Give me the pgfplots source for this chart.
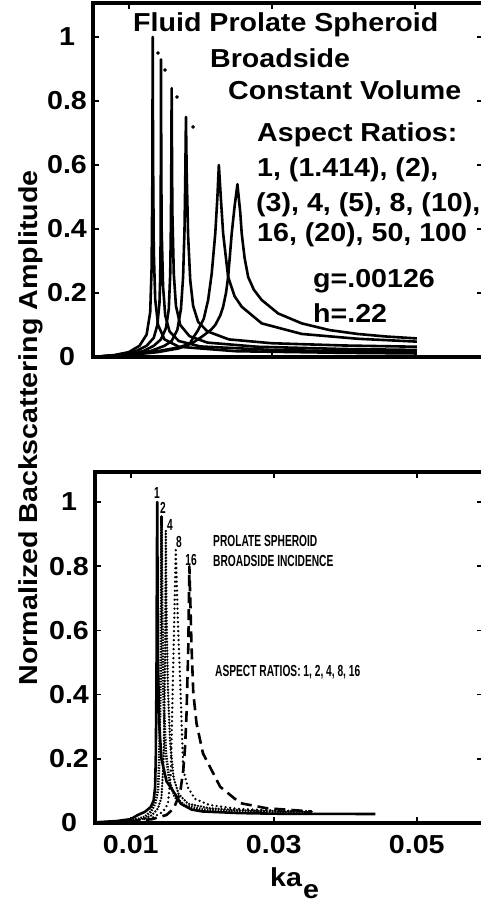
\documentclass[border=0pt]{standalone}
\usepackage{fontspec}
\setmainfont{Liberation Sans}[FakeStretch=1.1]
\usepackage{graphicx}
\usepackage{pgfplots}
\pgfplotsset{compat=1.18}

\newcommand\bigf{\fontsize{26}{30}\selectfont\bfseries}
\newcommand\smallf{\fontsize{16}{18}\selectfont\bfseries}
\newcommand\cond[1]{\scalebox{0.58}[1]{\smallf #1}}

\pgfplotsset{
  curve/.style={black, line width=2.6pt, line join=round, mark=none},
  panel/.style={
    scale only axis,
    xmin=0.005, ymin=0,
    separate axis lines,
    every outer x axis line/.append style={line width=3.2pt, line cap=rect},
    every outer y axis line/.append style={line width=3.2pt, line cap=rect},
    tick style={line width=1.6pt, black},
    major tick length=6pt,
    tick align=inside,
    scaled x ticks=false,
    xtick={0.01,0.03,0.05},
    ytick={0,0.2,0.4,0.6,0.8,1},
    yticklabels={0,0.2,0.4,0.6,0.8,1},
    yticklabel style={anchor=center, xshift=-26pt, font=\bigf},
    xticklabel style={anchor=center, yshift=-22pt, font=\bigf},
  },
}

\begin{document}
\begin{tikzpicture}
\useasboundingbox (0,0) rectangle (481pt,905pt);
\clip (0,0) rectangle (481pt,905pt);

% upper panel: constant volume, all aspect ratios
\begin{axis}[panel, at={(93pt,548pt)}, anchor=south west,
  width=390pt, height=354pt, xmax=0.059545, ymax=1.10625,
  xticklabels={}]
\addplot[curve] coordinates {(0.005,0) (0.008,0.006) (0.010,0.015) (0.0115,0.035) (0.0125,0.07) (0.0130,0.14) (0.0132,0.28) (0.0133,0.55) (0.01335,1.0) (0.0134,0.62) (0.0135,0.33) (0.0137,0.18) (0.0141,0.10) (0.0150,0.055) (0.0170,0.032) (0.0250,0.018) (0.0400,0.013) (0.0503,0.011)};
\addplot[curve] coordinates {(0.005,0) (0.008,0.005) (0.011,0.018) (0.0125,0.035) (0.0135,0.06) (0.0140,0.10) (0.0143,0.17) (0.0144,0.25) (0.01445,0.35) (0.01449,0.62) (0.01451,0.93) (0.01455,0.60) (0.0146,0.40) (0.0148,0.22) (0.0151,0.13) (0.0157,0.08) (0.0170,0.05) (0.0200,0.033) (0.0300,0.022) (0.0400,0.018) (0.0503,0.016)};
\addplot[curve] coordinates {(0.005,0) (0.009,0.006) (0.012,0.018) (0.0135,0.035) (0.0145,0.055) (0.0152,0.09) (0.0156,0.15) (0.0158,0.26) (0.0159,0.42) (0.01595,0.60) (0.0160,0.84) (0.01605,0.62) (0.0161,0.45) (0.0163,0.26) (0.0166,0.16) (0.0172,0.10) (0.0185,0.065) (0.0210,0.045) (0.0280,0.032) (0.0400,0.025) (0.0503,0.022)};
\addplot[curve] coordinates {(0.005,0) (0.010,0.007) (0.013,0.018) (0.015,0.035) (0.0160,0.05) (0.0168,0.085) (0.0173,0.15) (0.0176,0.25) (0.0178,0.40) (0.0179,0.55) (0.0180,0.75) (0.0181,0.58) (0.0183,0.38) (0.0186,0.24) (0.0190,0.16) (0.0197,0.11) (0.0210,0.08) (0.0240,0.055) (0.0300,0.043) (0.0400,0.036) (0.0503,0.032)};
\addplot[curve] coordinates {(0.005,0) (0.010,0.006) (0.014,0.015) (0.017,0.027) (0.0185,0.04) (0.0190,0.06) (0.0197,0.084) (0.0205,0.12) (0.0211,0.178) (0.0216,0.26) (0.0221,0.386) (0.0224,0.50) (0.0226,0.60) (0.0229,0.49) (0.0232,0.386) (0.0239,0.25) (0.0248,0.19) (0.0258,0.157) (0.0286,0.105) (0.0342,0.072) (0.0420,0.057) (0.0503,0.048)};
\addplot[curve] coordinates {(0.005,0) (0.010,0.008) (0.014,0.018) (0.017,0.030) (0.019,0.045) (0.0202,0.063) (0.0215,0.085) (0.0221,0.10) (0.0228,0.13) (0.0232,0.157) (0.0236,0.20) (0.0239,0.25) (0.0244,0.386) (0.0248,0.47) (0.0252,0.54) (0.0256,0.45) (0.0258,0.386) (0.0262,0.31) (0.0267,0.25) (0.0275,0.21) (0.0286,0.178) (0.0309,0.136) (0.0342,0.105) (0.0381,0.084) (0.0420,0.072) (0.0460,0.064) (0.0503,0.058)};
% peaks of the bracketed ratios
\addplot[black, only marks, mark=*, mark size=1.6pt] coordinates {(0.01409,0.95) (0.01507,0.897) (0.01675,0.8125) (0.01899,0.719)};
\end{axis}

% lower panel
\begin{axis}[panel, at={(95pt,82pt)}, anchor=south west,
  width=388pt, height=351pt, xmax=0.059266, ymax=1.0935,
  xticklabels={0.01,0.03,0.05}]
\addplot[curve] coordinates {(0.005,0.002) (0.008,0.006) (0.010,0.012) (0.011,0.025) (0.012,0.035) (0.0128,0.05) (0.0132,0.07) (0.0134,0.11) (0.0135,0.2) (0.0136,0.45) (0.01365,0.75) (0.0137,1.0) (0.01375,0.75) (0.0138,0.5) (0.0140,0.3) (0.0143,0.2) (0.0150,0.13) (0.0162,0.09) (0.017,0.06) (0.0185,0.042) (0.020,0.036) (0.025,0.031) (0.030,0.029) (0.0442,0.028)};
\addplot[curve, dash pattern=on 1.5pt off 1.2pt] coordinates {(0.005,0.001) (0.009,0.005) (0.011,0.012) (0.012,0.02) (0.0128,0.035) (0.0134,0.06) (0.0138,0.10) (0.0140,0.2) (0.0142,0.5) (0.0143,0.955) (0.0144,0.65) (0.0146,0.38) (0.0149,0.22) (0.0154,0.13) (0.0162,0.08) (0.0175,0.055) (0.020,0.042) (0.025,0.036) (0.0353,0.033)};
\addplot[curve, line cap=round, dash pattern=on 0pt off 3pt] coordinates {(0.005,0.001) (0.010,0.006) (0.012,0.014) (0.013,0.025) (0.0138,0.045) (0.0143,0.08) (0.0146,0.2) (0.0148,0.5) (0.0149,0.91) (0.0150,0.65) (0.0152,0.42) (0.0155,0.25) (0.0160,0.14) (0.0167,0.09) (0.018,0.06) (0.021,0.046) (0.026,0.039) (0.0353,0.035)};
\addplot[curve, line cap=round, dash pattern=on 0pt off 4.5pt] coordinates {(0.005,0.001) (0.010,0.006) (0.013,0.016) (0.0145,0.035) (0.0152,0.06) (0.0156,0.15) (0.0158,0.35) (0.0161,0.65) (0.0163,0.85) (0.0166,0.62) (0.0169,0.45) (0.0171,0.32) (0.01735,0.165) (0.0180,0.11) (0.019,0.075) (0.021,0.056) (0.025,0.044) (0.030,0.039) (0.0353,0.036)};
\addplot[curve, dash pattern=on 11pt off 6pt] coordinates {(0.005,0.001) (0.010,0.005) (0.013,0.012) (0.015,0.025) (0.016,0.045) (0.0169,0.093) (0.01735,0.165) (0.0176,0.237) (0.0178,0.34) (0.01805,0.55) (0.0182,0.80) (0.0185,0.55) (0.01875,0.405) (0.0192,0.31) (0.0201,0.217) (0.0225,0.113) (0.0253,0.062) (0.029,0.046) (0.0353,0.036)};
\end{axis}

\begin{scope}[every node/.style={inner sep=0, font=\bigf}]
\node[anchor=base west] at (133pt,873pt) {Fluid Prolate Spheroid};
\node[anchor=base west] at (210pt,837pt) {Broadside};
\node[anchor=base west] at (228pt,805pt) {Constant Volume};
\node[anchor=base west] at (257pt,763pt) {Aspect Ratios:};
\node[anchor=base west] at (257pt,728pt) {1, (1.414), (2),};
\node[anchor=base west] at (256pt,693pt) {(3), 4, (5), 8, (10),};
\node[anchor=base west] at (257pt,663pt) {16, (20), 50, 100};
\node[anchor=base west] at (313pt,617pt) {g=.00126};
\node[anchor=base west] at (313pt,582pt) {h=.22};
\node[rotate=90, anchor=base] at (37pt,477pt) {Normalized Backscattering Amplitude};
\node[anchor=base west] at (270pt,18pt) {ka};
\node[anchor=base west] at (303pt,6pt) {e};
\end{scope}

\begin{scope}[every node/.style={inner sep=0}]
\node[anchor=base west] at (213pt,358pt) {\cond{PROLATE SPHEROID}};
\node[anchor=base west] at (213pt,338pt) {\cond{BROADSIDE INCIDENCE}};
\node[anchor=base west] at (215pt,228pt) {\cond{ASPECT RATIOS: 1, 2, 4, 8, 16}};
\node at (157pt,412pt) {\cond{1}};
\node at (163pt,397pt) {\cond{2}};
\node at (170pt,380pt) {\cond{4}};
\node at (179pt,363pt) {\cond{8}};
\node at (191pt,345pt) {\cond{16}};
\end{scope}
\end{tikzpicture}
\end{document}
